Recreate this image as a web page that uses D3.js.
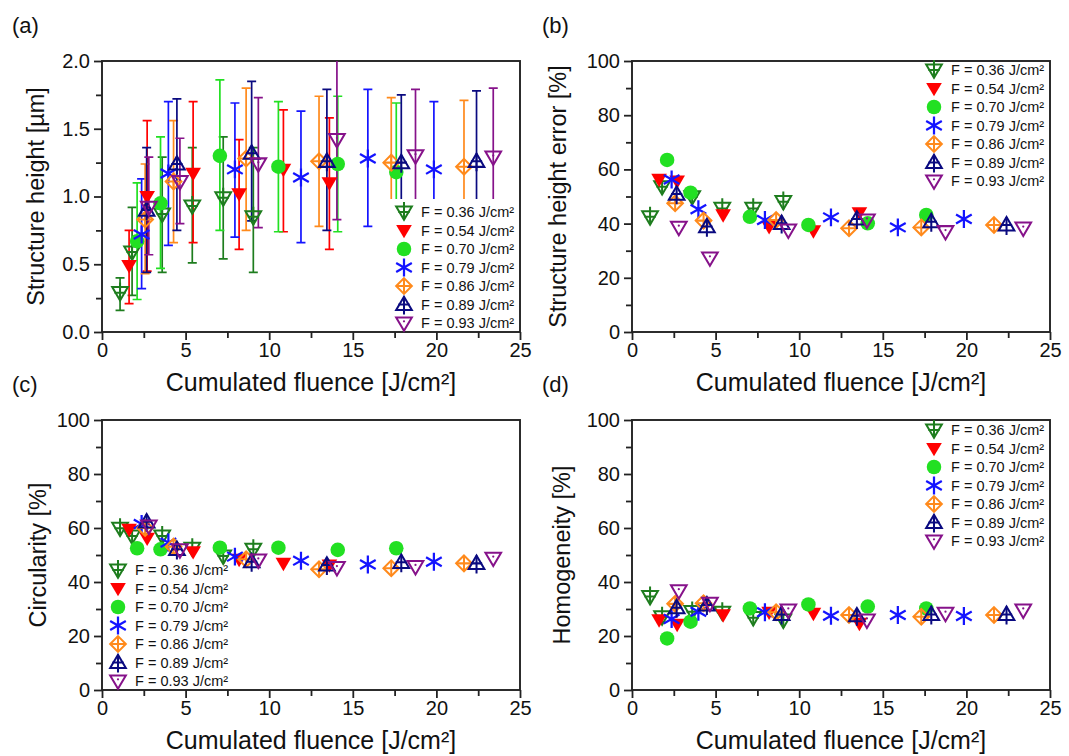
<!DOCTYPE html>
<html>
<head>
<meta charset="utf-8">
<script src="https://cdn.jsdelivr.net/npm/d3@7"></script>
<style>
  body { margin: 0; background: #fff; }
  svg text { font-family: "Liberation Sans", Arial, sans-serif; fill: #111; }
</style>
</head>
<body>
<svg id="chart" width="1069" height="756"></svg>
<script>
// series: laser fluence per pulse
var fluences = ['0.36', '0.54', '0.70', '0.79', '0.86', '0.89', '0.93'];
var colours = ['#1e7d1e', '#ff0000', '#22e022', '#1414ff', '#ff8a1c', '#0a0a80', '#86128a'];
var symbols = ['triDownPlus', 'triDown', 'circle', 'star', 'diamondPlus', 'triUpPlus', 'triDownDot'];

// cumulated fluence [J/cm²], one row per series
var cumFluence = [
  [1.08, 1.80, 3.60, 5.40, 7.25, 9.05],
  [1.62, 2.70, 5.45, 8.20, 10.85, 13.60],
  [2.10, 3.50, 7.05, 10.55, 14.10, 17.60],
  [2.37, 3.97, 7.95, 11.90, 15.90, 19.85],
  [2.58, 4.28, 8.62, 12.98, 17.30, 21.65],
  [2.67, 4.48, 8.95, 13.45, 17.90, 22.40],
  [2.80, 4.66, 9.35, 14.05, 18.75, 23.40]
];

// (a) structure height [µm] with error bar ends
var heightVal = [
  [0.29, 0.59, 0.87, 0.93, 0.99, 0.85],
  [0.49, 1.00, 1.17, 1.02, 1.20, 1.10],
  [0.67, 0.95, 1.30, 1.22, 1.24, 1.18],
  [0.72, 1.17, 1.20, 1.14, 1.28, 1.20],
  [0.83, 1.11, 1.28, 1.26, 1.25, 1.22],
  [0.90, 1.24, 1.32, 1.26, 1.25, 1.26],
  [0.92, 1.11, 1.24, 1.42, 1.30, 1.29]
];
var heightLow = [
  [0.16, 0.27, 0.44, 0.51, 0.54, 0.44],
  [0.21, 0.45, 0.66, 0.61, 0.74, 0.61],
  [0.24, 0.47, 0.75, 0.74, 0.74, 0.70],
  [0.32, 0.64, 0.70, 0.66, 0.78, 0.70],
  [0.43, 0.66, 0.75, 0.78, 0.75, 0.72],
  [0.44, 0.75, 0.82, 0.75, 0.75, 0.75],
  [0.57, 0.80, 0.77, 0.83, 0.80, 0.80]
];
var heightHigh = [
  [0.40, 0.92, 1.29, 1.36, 1.44, 1.36],
  [0.75, 1.56, 1.70, 1.42, 1.64, 1.58],
  [1.10, 1.44, 1.86, 1.70, 1.74, 1.69],
  [1.13, 1.70, 1.69, 1.63, 1.79, 1.70],
  [1.24, 1.56, 1.80, 1.74, 1.73, 1.71],
  [1.36, 1.72, 1.85, 1.79, 1.75, 1.78],
  [1.29, 1.43, 1.73, 2.10, 1.79, 1.80]
];

// (b) structure height error [%]
var heightError = [
  [42.5, 53.6, 49.9, 45.6, 45.6, 48.1],
  [56.3, 55.7, 43.2, 38.9, 37.3, 44.0],
  [63.5, 51.4, 42.5, 39.5, 40.1, 43.2],
  [56.3, 45.3, 41.3, 42.3, 38.6, 41.7],
  [47.5, 41.1, 41.3, 38.3, 38.6, 39.5],
  [50.9, 38.9, 40.1, 41.7, 40.7, 39.5],
  [38.6, 27.3, 37.6, 41.3, 37.0, 38.3]
];

// (c) circularity [%]
var circularity = [
  [59.9, 57.0, 57.0, 52.5, 49.6, 52.1],
  [59.5, 56.2, 51.2, 48.4, 46.9, 46.3],
  [52.5, 52.1, 52.7, 52.7, 51.9, 52.5],
  [61.5, 54.6, 49.4, 47.9, 46.5, 47.5],
  [60.0, 53.1, 48.4, 44.7, 45.1, 46.9],
  [62.3, 52.1, 47.5, 46.3, 47.3, 46.9],
  [60.7, 51.9, 48.1, 45.3, 45.7, 48.8]
];

// (d) homogeneity [%]
var homogeneity = [
  [34.6, 27.1, 29.0, 28.8, 26.8, 25.9],
  [26.0, 24.3, 27.8, 28.8, 28.4, 24.7],
  [19.1, 25.3, 30.2, 31.7, 30.9, 30.2],
  [26.3, 29.0, 28.8, 27.5, 27.8, 27.4],
  [31.9, 32.1, 28.8, 27.8, 27.1, 27.8],
  [30.5, 31.5, 28.0, 27.5, 28.0, 28.0],
  [36.7, 32.1, 29.6, 25.9, 28.4, 29.6]
];

var xTicks = [0, 5, 10, 15, 20, 25];
var xMinor = [2.5, 7.5, 12.5, 17.5, 22.5];
var heightTicks = [0, 0.5, 1.0, 1.5, 2.0];
var heightMinor = [0.25, 0.75, 1.25, 1.75];
var percentTicks = [0, 20, 40, 60, 80, 100];
var percentMinor = [10, 30, 50, 70, 90];

var xTitle = 'Cumulated fluence [J/cm²]';

var svg = d3.select('#chart');

function drawMarker(g, type, colour) {
  var sw = 1.8;
  g = g.append('g').attr('transform', 'scale(1.12)');
  if (type === 'triDown') {
    g.append('path').attr('d', 'M-7,-5L7,-5L0,7Z').attr('fill', colour);
  } else if (type === 'circle') {
    g.append('circle').attr('r', 6.5).attr('fill', colour);
  } else if (type === 'star') {
    g.append('path')
      .attr('d', 'M0,-8V8M-7,-4L7,4M-7,4L7,-4')
      .attr('stroke', colour).attr('stroke-width', 2).attr('fill', 'none');
  } else if (type === 'triDownPlus') {
    g.append('path').attr('d', 'M-7,-5L7,-5L0,7Z')
      .attr('stroke', colour).attr('stroke-width', sw).attr('fill', 'none');
    g.append('path').attr('d', 'M0,-9V7M-5,0H5')
      .attr('stroke', colour).attr('stroke-width', sw);
  } else if (type === 'diamondPlus') {
    g.append('path').attr('d', 'M0,-7L7,0L0,7L-7,0Z')
      .attr('stroke', colour).attr('stroke-width', sw).attr('fill', 'none');
    g.append('path').attr('d', 'M0,-7V7M-7,0H7')
      .attr('stroke', colour).attr('stroke-width', sw);
  } else if (type === 'triUpPlus') {
    g.append('path').attr('d', 'M0,-7L7,5L-7,5Z')
      .attr('stroke', colour).attr('stroke-width', sw).attr('fill', 'none');
    g.append('path').attr('d', 'M0,-7V9M-5,0H5')
      .attr('stroke', colour).attr('stroke-width', sw);
  } else if (type === 'triDownDot') {
    g.append('path').attr('d', 'M-7,-5L7,-5L0,7Z')
      .attr('stroke', colour).attr('stroke-width', sw).attr('fill', 'none');
    g.append('circle').attr('cx', 0).attr('cy', -1.5).attr('r', 1).attr('fill', colour);
  }
}

function drawPanel(opts) {
  var x = d3.scaleLinear().domain([0, 25]).range([opts.left, opts.right]);
  var y = d3.scaleLinear().domain(opts.yDomain).range([opts.bottom, opts.top]);

  var g = svg.append('g');
  var clipId = 'clip-' + opts.tag;
  svg.append('clipPath').attr('id', clipId)
    .append('rect')
    .attr('x', opts.left).attr('y', opts.top)
    .attr('width', opts.right - opts.left).attr('height', opts.bottom - opts.top);

  // axes with outward ticks
  var xAxis = g.append('g').attr('transform', 'translate(0,' + opts.bottom + ')')
    .call(d3.axisBottom(x).tickValues(xTicks).tickSize(8).tickSizeOuter(0).tickPadding(3).tickFormat(d3.format('d')));
  var xMin = g.append('g').attr('transform', 'translate(0,' + opts.bottom + ')')
    .call(d3.axisBottom(x).tickValues(xMinor).tickSize(6).tickSizeOuter(0).tickFormat(''));
  var yAxis = g.append('g').attr('transform', 'translate(' + opts.left + ',0)')
    .call(d3.axisLeft(y).tickValues(opts.yTicks).tickSize(8).tickSizeOuter(0).tickPadding(4).tickFormat(opts.yFormat));
  var yMin = g.append('g').attr('transform', 'translate(' + opts.left + ',0)')
    .call(d3.axisLeft(y).tickValues(opts.yMinor).tickSize(6).tickSizeOuter(0).tickFormat(''));

  [xAxis, xMin, yAxis, yMin].forEach(function(a) {
    a.select('.domain').remove();
    a.selectAll('line').attr('stroke', '#222').attr('stroke-width', 1.8);
    a.selectAll('text').attr('font-size', 20).attr('fill', '#111')
      .style('font-family', '"Liberation Sans", Arial, sans-serif');
  });

  g.append('rect')
    .attr('x', opts.left).attr('y', opts.top)
    .attr('width', opts.right - opts.left).attr('height', opts.bottom - opts.top)
    .attr('fill', 'none').attr('stroke', '#222').attr('stroke-width', 1.9);

  // titles
  g.append('text')
    .attr('x', (opts.left + opts.right) / 2).attr('y', opts.bottom + 59)
    .attr('text-anchor', 'middle').attr('font-size', 25)
    .text(xTitle);
  g.append('text')
    .attr('transform', 'translate(' + opts.yTitleX + ',' + ((opts.top + opts.bottom) / 2) + ') rotate(-90)')
    .attr('text-anchor', 'middle').attr('dy', '0.35em').attr('font-size', 23.5)
    .text(opts.yTitle);
  g.append('text')
    .attr('x', opts.left - 90).attr('y', opts.top - 28)
    .attr('font-size', 22)
    .text(opts.label);

  var plot = g.append('g').attr('clip-path', 'url(#' + clipId + ')');

  fluences.forEach(function(f, i) {
    var pts = cumFluence[i].map(function(cx, j) {
      return { x: cx, y: opts.values[i][j], lo: opts.low ? opts.low[i][j] : null, hi: opts.high ? opts.high[i][j] : null };
    });
    if (opts.low) {
      var bars = plot.append('g').attr('stroke', colours[i]).attr('stroke-width', 1.7).attr('fill', 'none');
      bars.selectAll('path').data(pts).enter().append('path')
        .attr('d', function(d) {
          var px = x(d.x), y1 = y(d.lo), y2 = y(d.hi);
          return 'M' + px + ',' + y1 + 'V' + y2 +
            'M' + (px - 4.5) + ',' + y1 + 'H' + (px + 4.5) +
            'M' + (px - 4.5) + ',' + y2 + 'H' + (px + 4.5);
        });
    }
  });

  if (opts.legendBg) {
    g.append('rect')
      .attr('x', opts.legendBg[0]).attr('y', opts.legendBg[1])
      .attr('width', opts.legendBg[2]).attr('height', opts.legendBg[3])
      .attr('fill', '#fff');
  }

  fluences.forEach(function(f, i) {
    var pts = cumFluence[i].map(function(cx, j) {
      return { x: cx, y: opts.values[i][j] };
    });
    plot.append('g').selectAll('g').data(pts).enter().append('g')
      .attr('transform', function(d) { return 'translate(' + x(d.x) + ',' + y(d.y) + ')'; })
      .each(function() { drawMarker(d3.select(this), symbols[i], colours[i]); });
  });

  // legend
  var leg = g.append('g').attr('transform', 'translate(' + opts.legendX + ',' + opts.legendY + ')');
  fluences.forEach(function(f, i) {
    var row = leg.append('g').attr('transform', 'translate(0,' + (i * 18.5) + ')');
    drawMarker(row.append('g'), symbols[i], colours[i]);
    row.append('text').attr('x', 17).attr('dy', '0.36em')
      .attr('font-size', 14.5).text('F = ' + f + ' J/cm²');
  });
}

drawPanel({
  tag: 'a', label: '(a)', left: 102, right: 520, top: 61, bottom: 332,
  yDomain: [0, 2], yTicks: heightTicks, yMinor: heightMinor, yFormat: d3.format('.1f'),
  yTitle: 'Structure height [µm]', yTitleX: 36,
  values: heightVal, low: heightLow, high: heightHigh,
  legendBg: [386, 199, 132, 131], legendX: 404, legendY: 212
});

drawPanel({
  tag: 'b', label: '(b)', left: 632, right: 1050, top: 61, bottom: 332,
  yDomain: [0, 100], yTicks: percentTicks, yMinor: percentMinor, yFormat: d3.format('d'),
  yTitle: 'Structure height error [%]', yTitleX: 558,
  values: heightError, legendX: 934, legendY: 70
});

drawPanel({
  tag: 'c', label: '(c)', left: 102, right: 520, top: 420, bottom: 690,
  yDomain: [0, 100], yTicks: percentTicks, yMinor: percentMinor, yFormat: d3.format('d'),
  yTitle: 'Circularity [%]', yTitleX: 38,
  values: circularity, legendX: 118, legendY: 570
});

drawPanel({
  tag: 'd', label: '(d)', left: 632, right: 1050, top: 420, bottom: 690,
  yDomain: [0, 100], yTicks: percentTicks, yMinor: percentMinor, yFormat: d3.format('d'),
  yTitle: 'Homogeneity [%]', yTitleX: 562,
  values: homogeneity, legendX: 934, legendY: 430
});
</script>
</body>
</html>
